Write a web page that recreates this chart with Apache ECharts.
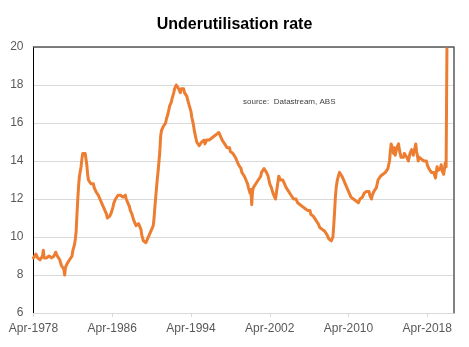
<!DOCTYPE html>
<html>
<head>
<meta charset="utf-8">
<script src="https://cdn.jsdelivr.net/npm/echarts@6/dist/echarts.min.js"></script>
<style>
html,body{margin:0;padding:0;background:#fff;}
#chart{width:469px;height:347px;}
</style>
</head>
<body>
<div id="chart"></div>
<script>
// ---- data (monthly underutilisation rate, %) ----
const monthNames = ['Jan','Feb','Mar','Apr','May','Jun','Jul','Aug','Sep','Oct','Nov','Dec'];
const startYear = 1978, startMonth = 3;   // Apr-1978
const endYear = 2020, endMonth = 11;      // axis runs to Dec-2020
const labelStep = 96;                     // label every 8 years
const yTicks = [6, 8, 10, 12, 14, 16, 18, 20];

const y1978 = [8.9, 8.8, 9.0, 9.1, 9.2, 8.9, 8.8, 8.9, 8.8]; // Apr-Dec
const y1979 = [8.9, 8.8, 9.0, 9.3, 8.9, 9.0, 8.8, 8.9, 9.0, 8.9, 9.0, 8.9];
const y1980 = [9.0, 8.9, 9.0, 8.9, 9.0, 8.9, 9.2, 9.1, 9.0, 8.9, 9.0, 8.8];
const y1981 = [8.7, 8.5, 8.6, 8.4, 8.3, 8.0, 8.4, 8.5, 8.6, 8.5, 8.7, 8.8];
const y1982 = [8.8, 8.9, 9.0, 9.3, 9.4, 9.6, 9.9, 10.3, 11.2, 12.0, 12.7, 13.2];
const y1983 = [13.3, 13.7, 14.1, 14.4, 14.3, 14.5, 14.4, 14.1, 13.8, 13.3, 13.0, 12.9];
const y1984 = [13.0, 12.8, 12.9, 12.7, 12.8, 12.6, 12.5, 12.4, 12.3, 12.4, 12.2, 12.1];
const y1985 = [12.0, 11.9, 11.8, 11.7, 11.6, 11.5, 11.4, 11.3, 11.2, 11.0, 10.9, 11.0];
const y1986 = [11.1, 11.2, 11.3, 11.4, 11.6, 11.8, 11.9, 12.0, 11.9, 12.0, 12.2, 12.1];
const y1987 = [12.3, 12.2, 12.3, 12.2, 12.1, 12.2, 12.1, 12.2, 12.0, 11.9, 11.8, 11.7];
const y1988 = [11.6, 11.4, 11.3, 11.2, 11.1, 10.9, 10.8, 10.8, 10.6, 10.5, 10.6, 10.7];
const y1989 = [10.6, 10.7, 10.4, 10.1, 10.0, 9.8, 9.7, 9.8, 9.7, 9.8, 9.9, 10.0];
const y1990 = [10.1, 10.2, 10.3, 10.3, 10.4, 10.6, 11.0, 11.6, 12.1, 12.6, 13.1, 13.5];
const y1991 = [14.0, 14.5, 15.3, 15.6, 15.7, 15.8, 15.8, 15.9, 16.0, 16.2, 16.3, 16.5];
const y1992 = [16.7, 16.9, 17.0, 17.1, 17.3, 17.4, 17.6, 17.8, 17.9, 18.0, 18.1, 17.9];
const y1993 = [17.8, 17.7, 17.6, 17.8, 17.7, 17.9, 17.8, 17.6, 17.7, 17.5, 17.4, 17.2];
const y1994 = [17.1, 16.9, 16.9, 16.6, 16.3, 16.1, 15.9, 15.6, 15.4, 15.2, 15.0, 14.9];
const y1995 = [14.9, 14.8, 14.7, 14.9, 15.0, 14.9, 15.0, 15.1, 14.9, 15.0, 15.1, 15.0];
const y1996 = [15.0, 15.1, 15.0, 15.1, 15.2, 15.1, 15.2, 15.3, 15.2, 15.3, 15.4, 15.3];
const y1997 = [15.4, 15.5, 15.4, 15.3, 15.2, 15.1, 15.0, 15.1, 14.9, 14.8, 14.9, 14.7];
const y1998 = [14.7, 14.6, 14.7, 14.5, 14.6, 14.5, 14.4, 14.5, 14.3, 14.2, 14.1, 14.0];
const y1999 = [13.9, 13.8, 13.8, 13.7, 13.6, 13.4, 13.3, 13.4, 13.2, 13.1, 13.0, 12.9];
const y2000 = [12.8, 12.6, 12.5, 12.3, 12.5, 11.7, 12.4, 12.6, 12.5, 12.7, 12.8, 12.9];
const y2001 = [12.9, 13.0, 13.1, 13.1, 13.2, 13.4, 13.5, 13.4, 13.6, 13.7, 13.5, 13.4];
const y2002 = [13.3, 13.2, 13.0, 12.8, 12.7, 12.6, 12.5, 12.3, 12.4, 12.2, 12.0, 12.3];
const y2003 = [12.6, 12.9, 13.2, 13.1, 13.0, 13.0, 12.9, 13.0, 12.9, 12.8, 12.7, 12.6];
const y2004 = [12.6, 12.5, 12.4, 12.4, 12.3, 12.2, 12.3, 12.1, 12.0, 12.0, 11.9, 12.0];
const y2005 = [11.9, 11.8, 11.9, 11.8, 11.7, 11.8, 11.7, 11.6, 11.7, 11.6, 11.5, 11.6];
const y2006 = [11.5, 11.4, 11.5, 11.3, 11.4, 11.2, 11.3, 11.2, 11.1, 11.0, 11.1, 10.9];
const y2007 = [10.9, 10.8, 10.7, 10.6, 10.5, 10.6, 10.5, 10.4, 10.5, 10.4, 10.3, 10.3];
const y2008 = [10.2, 10.1, 10.0, 9.9, 9.8, 9.9, 9.8, 9.7, 10.0, 10.6, 11.3, 12.1];
const y2009 = [12.6, 12.9, 13.1, 13.2, 13.4, 13.4, 13.3, 13.2, 13.1, 13.1, 12.9, 12.8];
const y2010 = [12.8, 12.6, 12.5, 12.4, 12.3, 12.3, 12.1, 12.1, 12.0, 12.0, 11.9, 11.9];
const y2011 = [11.9, 11.8, 11.9, 11.8, 11.9, 12.0, 11.9, 12.0, 12.1, 12.2, 12.3, 12.4];
const y2012 = [12.3, 12.4, 12.5, 12.3, 12.4, 12.2, 12.3, 12.0, 12.2, 12.3, 12.4, 12.5];
const y2013 = [12.4, 12.6, 12.8, 13.0, 12.9, 13.1, 13.2, 13.3, 13.2, 13.3, 13.4, 13.3];
const y2014 = [13.4, 13.5, 13.4, 13.6, 13.5, 14.0, 14.5, 14.9, 15.0, 14.6, 14.4, 14.7];
const y2015 = [14.3, 14.5, 14.7, 14.6, 14.9, 14.6, 14.4, 14.2, 14.1, 14.3, 14.2, 14.4];
const y2016 = [14.5, 14.4, 14.2, 14.3, 14.0, 14.2, 14.4, 14.3, 14.6, 14.5, 14.3, 14.5];
const y2017 = [14.7, 14.9, 14.5, 14.3, 14.0, 14.2, 14.1, 14.2, 14.1, 14.0, 14.2, 14.0];
const y2018 = [14.0, 13.9, 14.0, 13.8, 13.7, 13.6, 13.7, 13.5, 13.4, 13.5, 13.3, 13.4];
const y2019 = [13.3, 13.1, 13.4, 13.7, 13.5, 13.6, 13.4, 13.6, 13.8, 13.5, 13.6, 13.3];
const y2020 = [13.6, 13.9, 13.7, 19.9]; // Jan-Apr

const titleText = 'Underutilisation rate';
const sourceText = 'source:  Datastream, ABS';

// ---- build ----
const values = [].concat(y1978, y1979, y1980, y1981, y1982, y1983, y1984, y1985, y1986, y1987,
  y1988, y1989, y1990, y1991, y1992, y1993, y1994, y1995, y1996, y1997, y1998, y1999, y2000,
  y2001, y2002, y2003, y2004, y2005, y2006, y2007, y2008, y2009, y2010, y2011, y2012, y2013,
  y2014, y2015, y2016, y2017, y2018, y2019, y2020);

const categories = [];
for (let y = startYear; y <= endYear; y++) {
  const m0 = (y === startYear) ? startMonth : 0;
  const m1 = (y === endYear) ? endMonth : 11;
  for (let m = m0; m <= m1; m++) categories.push(monthNames[m] + '-' + y);
}
const seriesData = categories.map((c, i) => (i < values.length ? values[i] : null));

const FONT = '"Liberation Sans", Arial, sans-serif';
const chart = echarts.init(document.getElementById('chart'), null, {renderer: 'canvas'});
chart.setOption({
  animation: false,
  backgroundColor: '#ffffff',
  title: {
    text: titleText, left: 'center', top: 12,
    textStyle: {fontFamily: FONT, fontSize: 16, fontWeight: 'bold', color: '#000000'}
  },
  graphic: [{
    type: 'text', left: 243, top: 98,
    style: {text: sourceText, font: '8px "Liberation Sans", Arial, sans-serif', fill: '#404040'}
  }],
  grid: {left: 33.5, right: 15.5, top: 47, bottom: 34},
  xAxis: [{
    type: 'category', data: categories, boundaryGap: false,
    axisLine: {show: true, lineStyle: {color: '#d9d9d9', width: 1}},
    axisTick: {show: true, length: 4, interval: (i) => i % labelStep === 0, lineStyle: {color: '#d9d9d9'}},
    axisLabel: {interval: (i) => i % labelStep === 0, color: '#595959', fontFamily: FONT, fontSize: 12, margin: 10},
    splitLine: {show: false}
  }, {
    type: 'category', data: categories, boundaryGap: false, position: 'top',
    axisLine: {show: true, lineStyle: {color: '#595959', width: 1.5}},
    axisTick: {show: false}, axisLabel: {show: false}, splitLine: {show: false}
  }],
  yAxis: [{
    type: 'value', min: yTicks[0], max: yTicks[yTicks.length - 1], interval: 2,
    axisLine: {show: true, lineStyle: {color: '#000000', width: 1}},
    axisTick: {show: false},
    axisLabel: {color: '#595959', fontFamily: FONT, fontSize: 12, margin: 10},
    splitLine: {show: true, lineStyle: {color: '#d9d9d9', width: 1}}
  }, {
    type: 'value', min: yTicks[0], max: yTicks[yTicks.length - 1], interval: 2, position: 'right',
    axisLine: {show: true, lineStyle: {color: '#595959', width: 1.5}},
    axisTick: {show: false}, axisLabel: {show: false}, splitLine: {show: false}
  }],
  series: [{
    type: 'line', data: seriesData, xAxisIndex: 0, yAxisIndex: 0,
    showSymbol: false, symbol: 'none', connectNulls: false,
    lineStyle: {color: '#ED7D31', width: 3, cap: 'round', join: 'round'},
    z: 3
  }]
});
</script>
</body>
</html>
